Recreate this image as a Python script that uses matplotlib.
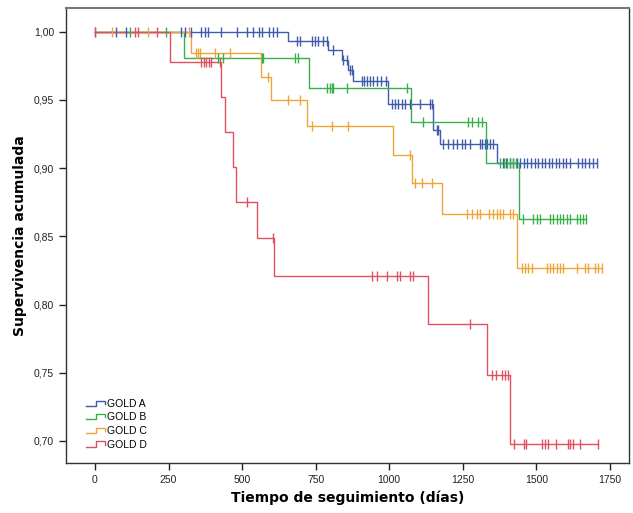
import numpy as np
import matplotlib
matplotlib.use("Agg")
import matplotlib.pyplot as plt
from matplotlib.lines import Line2D
from matplotlib.legend_handler import HandlerBase

# ---------------- data ----------------
groups = ["GOLD A", "GOLD B", "GOLD C", "GOLD D"]

a_drop_days = [657, 793, 838, 861, 876, 997, 1150, 1172, 1365]
a_levels = [1.0, 0.9934, 0.9866, 0.979, 0.972, 0.964, 0.947, 0.928, 0.918, 0.9035]
a_end = 1705
a_censored = [71, 104, 291, 306, 326, 362, 374, 385, 428, 481, 515, 538, 557, 566, 591, 606, 617,
              685, 697, 736, 747, 759, 776, 787, 810, 844, 855, 866, 872,
              906, 916, 925, 934, 945, 960, 973, 990,
              1008, 1019, 1031, 1042, 1053, 1070, 1104, 1138, 1144, 1161, 1166,
              1183, 1200, 1217, 1229, 1246, 1257, 1274, 1308, 1317, 1325, 1333, 1342, 1353,
              1386, 1398, 1410, 1422, 1434, 1446, 1458, 1470, 1482, 1494, 1506, 1518, 1530,
              1542, 1554, 1566, 1578, 1590, 1602, 1614, 1641, 1654, 1667, 1680, 1693, 1705]

b_drop_days = [303, 728, 1074, 1328, 1441]
b_levels = [1.0, 0.981, 0.959, 0.934, 0.9035, 0.8625]
b_end = 1668
b_censored = [0, 119, 241, 419, 436, 566, 571, 680, 690, 787, 798, 804, 810, 855, 1059,
              1116, 1268, 1280, 1302, 1314, 1375, 1390, 1400, 1410, 1420, 1430,
              1455, 1489, 1501, 1512, 1546, 1557, 1569, 1580, 1591, 1603, 1614, 1637, 1648, 1659, 1668]

c_drop_days = [326, 564, 598, 719, 1014, 1078, 1178, 1433]
c_levels = [1.0, 0.9846, 0.967, 0.95, 0.931, 0.910, 0.889, 0.8663, 0.8265]
c_end = 1722
c_censored = [57, 181, 320, 345, 351, 357, 408, 459, 589, 657, 697, 736, 807, 859, 1070,
              1087, 1110, 1144, 1263, 1280, 1297, 1308, 1340, 1353, 1365, 1376, 1387, 1410, 1421,
              1450, 1461, 1472, 1484, 1535, 1546, 1557, 1569, 1580, 1591, 1637, 1665, 1676,
              1699, 1710, 1722]

d_drop_days = [255, 430, 442, 468, 479, 549, 609, 1133, 1331, 1410]
d_levels = [1.0, 0.978, 0.952, 0.9267, 0.901, 0.875, 0.8485, 0.821, 0.7855, 0.748, 0.698]
d_end = 1710
d_censored = [1, 136, 146, 210, 362, 370, 378, 386, 396, 425, 518, 605,
              940, 957, 991, 1025, 1036, 1070, 1082, 1276, 1351, 1363, 1382, 1393, 1405,
              1425, 1459, 1464, 1518, 1529, 1540, 1566, 1608, 1616, 1625, 1648, 1710]

x_ticks = [0, 250, 500, 750, 1000, 1250, 1500, 1750]
y_ticks = [0.70, 0.75, 0.80, 0.85, 0.90, 0.95, 1.00]
y_tick_labels = ["0,70", "0,75", "0,80", "0,85", "0,90", "0,95", "1,00"]

colors = ["#3F5BAA", "#35B04A", "#EEA436", "#E0505E"]
series = [
    (a_drop_days, a_levels, a_end, a_censored),
    (b_drop_days, b_levels, b_end, b_censored),
    (c_drop_days, c_levels, c_end, c_censored),
    (d_drop_days, d_levels, d_end, d_censored),
]

# ---------------- figure ----------------
fig = plt.figure(figsize=(6.33, 5.13), dpi=100)
ax = fig.add_axes([66 / 633, 1 - 463.3 / 513, (629 - 66) / 633, (463.3 - 8.3) / 513])

for (drops, levels, end, cens), col in zip(series, colors):
    xs = np.concatenate([[0], drops, [end]])
    ys = np.concatenate([levels, [levels[-1]]])
    ax.step(xs, ys, where="post", color=col, lw=1.0, zorder=2)
    cens = np.asarray(cens)
    idx = np.searchsorted(np.asarray(drops), cens, side="right")
    cy = np.asarray(levels)[idx]
    ax.plot(cens, cy, linestyle="none", marker="|", markersize=7.5, mew=1.0,
            color=col, zorder=3)

ax.set_xlim(-98.5, 1815)
ax.set_ylim(0.6836, 1.0172)
ax.set_xticks(x_ticks)
ax.set_xticklabels([str(t) for t in x_ticks])
ax.set_yticks(y_ticks)
ax.set_yticklabels(y_tick_labels)
ax.tick_params(direction="out", length=5, width=1, labelsize=7.5, colors="#222222",
               labelfontfamily="Liberation Sans")
for s in ax.spines.values():
    s.set_color("#333333")
    s.set_linewidth(1.0)
ax.spines["top"].set_color("#777777")
ax.spines["top"].set_linewidth(1.5)

ax.set_xlabel("Tiempo de seguimiento (días)", fontsize=10, fontweight="bold",
              family="DejaVu Sans", labelpad=4)
ax.set_ylabel("Supervivencia acumulada", fontsize=10, fontweight="bold",
              family="DejaVu Sans", labelpad=5)


class StepHandler(HandlerBase):
    def __init__(self, color):
        super().__init__()
        self.color = color

    def create_artists(self, legend, orig_handle, xdescent, ydescent, width, height,
                       fontsize, trans):
        x0, x1 = -xdescent, -xdescent + width
        xm = x0 + width * 0.5
        yb = -ydescent + height * 0.15
        yt = -ydescent + height * 0.85
        line = Line2D([x0, xm, xm, x1, x1], [yb, yb, yt, yt, yb * 0.6 + yt * 0.4],
                      color=self.color, lw=1.0, transform=trans)
        return [line]


handles = [Line2D([], [], color=c) for c in colors]
leg = ax.legend(handles, groups, loc="lower left", bbox_to_anchor=(0.022, 0.014),
                frameon=False, fontsize=7.5, handlelength=1.9, handletextpad=0.1,
                labelspacing=0.35, borderpad=0.2,
                handler_map={h: StepHandler(c) for h, c in zip(handles, colors)},
                prop={"family": "Liberation Sans", "size": 7.5})

fig.savefig("out.png", dpi=100)
